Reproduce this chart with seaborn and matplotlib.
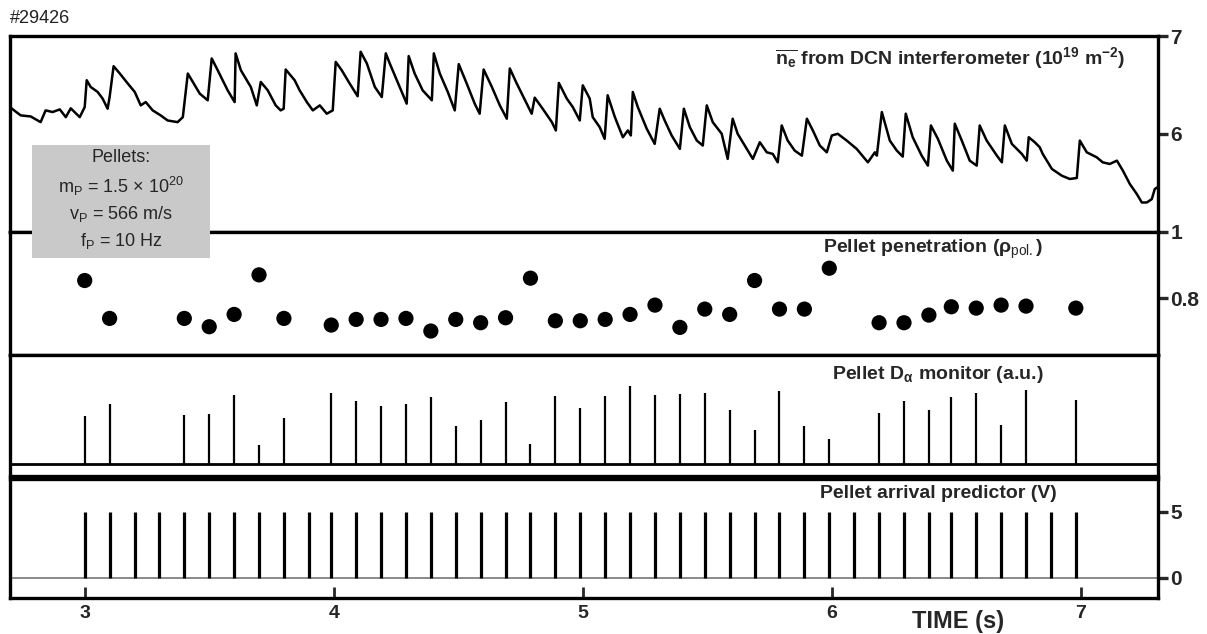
import numpy as np
import pandas as pd
import seaborn as sns
import matplotlib.pyplot as plt
from matplotlib.patches import Rectangle

# line averaged density trace (time in s, 1e19 m^-2)
ne_time = [2.70, 2.72, 2.743, 2.783, 2.823, 2.843, 2.871, 2.900, 2.924, 2.944, 2.980, 3.000,
           3.008, 3.024, 3.052, 3.072, 3.092, 3.100, 3.116, 3.141, 3.173, 3.201, 3.225, 3.245,
           3.273, 3.305, 3.333, 3.373, 3.394, 3.414, 3.434, 3.462, 3.494, 3.510, 3.534, 3.574,
           3.602, 3.606, 3.627, 3.667, 3.691, 3.707, 3.735, 3.767, 3.787, 3.799, 3.807, 3.843,
           3.863, 3.892, 3.916, 3.944, 3.972, 3.996, 4.008, 4.032, 4.064, 4.096, 4.108, 4.133,
           4.165, 4.193, 4.209, 4.225, 4.265, 4.293, 4.301, 4.325, 4.357, 4.394, 4.402, 4.426,
           4.458, 4.486, 4.502, 4.534, 4.566, 4.586, 4.602, 4.635, 4.667, 4.695, 4.707, 4.735,
           4.775, 4.795, 4.807, 4.839, 4.876, 4.892, 4.904, 4.936, 4.960, 4.988, 5.000, 5.028,
           5.040, 5.068, 5.088, 5.100, 5.129, 5.161, 5.181, 5.193, 5.201, 5.221, 5.257, 5.289,
           5.309, 5.329, 5.357, 5.390, 5.406, 5.430, 5.458, 5.482, 5.498, 5.522, 5.558, 5.582,
           5.602, 5.622, 5.659, 5.683, 5.711, 5.739, 5.763, 5.783, 5.799, 5.823, 5.851, 5.880,
           5.900, 5.924, 5.952, 5.980, 6.000, 6.024, 6.060, 6.100, 6.145, 6.173, 6.181, 6.201,
           6.233, 6.261, 6.285, 6.297, 6.325, 6.361, 6.386, 6.398, 6.426, 6.462, 6.486, 6.494,
           6.522, 6.554, 6.582, 6.594, 6.622, 6.663, 6.683, 6.695, 6.723, 6.763, 6.783, 6.791,
           6.815, 6.835, 6.847, 6.884, 6.924, 6.956, 6.984, 6.996, 7.024, 7.064, 7.088, 7.116,
           7.145, 7.169, 7.197, 7.225, 7.245, 7.265, 7.285, 7.297, 7.31]
ne_val = [6.275, 6.234, 6.190, 6.179, 6.121, 6.241, 6.224, 6.251, 6.172, 6.262, 6.172, 6.275,
          6.549, 6.480, 6.429, 6.361, 6.258, 6.377, 6.692, 6.617, 6.515, 6.429, 6.292, 6.326,
          6.241, 6.190, 6.138, 6.121, 6.172, 6.617, 6.531, 6.412, 6.344, 6.771, 6.651, 6.446,
          6.326, 6.823, 6.651, 6.480, 6.292, 6.531, 6.446, 6.292, 6.241, 6.258, 6.658, 6.549,
          6.446, 6.326, 6.241, 6.292, 6.207, 6.241, 6.736, 6.651, 6.515, 6.385, 6.839, 6.720,
          6.480, 6.377, 6.823, 6.720, 6.480, 6.310, 6.795, 6.617, 6.446, 6.344, 6.823, 6.617,
          6.429, 6.241, 6.713, 6.515, 6.310, 6.207, 6.658, 6.480, 6.292, 6.156, 6.669, 6.515,
          6.310, 6.207, 6.371, 6.258, 6.121, 6.036, 6.521, 6.361, 6.275, 6.138, 6.497, 6.361,
          6.172, 6.070, 5.951, 6.395, 6.172, 5.967, 6.036, 5.985, 6.429, 6.275, 6.053, 5.899,
          6.258, 6.138, 5.985, 5.848, 6.258, 6.070, 5.933, 5.882, 6.292, 6.121, 6.002, 5.746,
          6.156, 6.002, 5.848, 5.746, 5.916, 5.813, 5.797, 5.711, 6.087, 5.933, 5.831, 5.779,
          6.156, 6.036, 5.882, 5.813, 5.985, 6.002, 5.933, 5.848, 5.711, 5.813, 5.779, 6.224,
          5.933, 5.831, 5.769, 6.207, 5.967, 5.779, 5.677, 6.087, 5.951, 5.728, 5.626, 6.105,
          5.933, 5.728, 5.677, 6.087, 5.933, 5.779, 5.711, 6.087, 5.899, 5.797, 5.728, 5.967,
          5.916, 5.865, 5.797, 5.643, 5.574, 5.541, 5.551, 5.933, 5.813, 5.762, 5.711, 5.694,
          5.728, 5.626, 5.489, 5.387, 5.301, 5.301, 5.335, 5.438, 5.46]

# pellet arrival predictor pulses (s)
arrival_time = [3.00, 3.10, 3.20, 3.30, 3.40, 3.50, 3.60, 3.70, 3.80, 3.90, 3.99, 4.09, 4.19, 4.29,
                4.39, 4.49, 4.59, 4.69, 4.79, 4.89, 4.99, 5.09, 5.19, 5.29, 5.39, 5.49, 5.59, 5.69,
                5.79, 5.89, 5.99, 6.09, 6.19, 6.29, 6.39, 6.48, 6.58, 6.68, 6.78, 6.88, 6.98]
arrival_volt = 5.0

# pellets that actually reached the plasma
pellet_time = [3.00, 3.10, 3.40, 3.50, 3.60, 3.70, 3.80, 3.99, 4.09, 4.19, 4.29, 4.39, 4.49, 4.59,
               4.69, 4.79, 4.89, 4.99, 5.09, 5.19, 5.29, 5.39, 5.49, 5.59, 5.69, 5.79, 5.89, 5.99,
               6.19, 6.29, 6.39, 6.48, 6.58, 6.68, 6.78, 6.98]
penetration = [0.854, 0.740, 0.740, 0.715, 0.752, 0.871, 0.740, 0.720, 0.737, 0.737, 0.740, 0.702,
               0.737, 0.727, 0.742, 0.861, 0.733, 0.733, 0.737, 0.752, 0.780, 0.713, 0.768, 0.752,
               0.854, 0.768, 0.768, 0.891, 0.727, 0.727, 0.750, 0.775, 0.771, 0.780, 0.777, 0.771]
d_alpha = [1.45, 1.82, 1.47, 1.53, 2.10, 0.57, 1.40, 2.14, 1.90, 1.75, 1.83, 2.03, 1.15, 1.33,
           1.87, 0.61, 2.05, 1.70, 2.05, 2.37, 2.09, 2.11, 2.15, 1.63, 1.03, 2.22, 1.15, 0.75,
           1.54, 1.90, 1.65, 2.02, 2.14, 1.18, 2.24, 1.95]

sns.set_style("white")
narrow = ['Liberation Sans Narrow', 'Liberation Sans', 'DejaVu Sans']
plt.rcParams['font.family'] = narrow
plt.rcParams['mathtext.fontset'] = 'custom'
plt.rcParams['mathtext.rm'] = 'Liberation Sans'
plt.rcParams['mathtext.it'] = 'Liberation Sans'
plt.rcParams['mathtext.bf'] = 'Liberation Sans:bold'

fig = plt.figure(figsize=(12.07, 6.34), dpi=100)
L, W = 10 / 1207, 1148 / 1207
ax1 = fig.add_axes([L, 0.6341, W, 0.3091])
ax2 = fig.add_axes([L, 0.4401, W, 0.1940])
ax3 = fig.add_axes([L, 0.2492, W, 0.1909])
ax4 = fig.add_axes([L, 0.0568, W, 0.1877])
xlim = (2.70, 7.31)
spine_w = 2.4

# density
df_ne = pd.DataFrame({'t': ne_time, 'ne': ne_val})
sns.lineplot(data=df_ne, x='t', y='ne', ax=ax1, color='black', lw=1.8,
             sort=False, estimator=None)
ax1.set_ylim(5, 7)
ax1.set_yticks([6, 7])
ax1.set_yticklabels(['6', '7'], fontweight='bold')
ax1.text(0.971, 0.888,
         r'$\mathbf{\overline{n_e}}$ from DCN interferometer (10$^{\mathbf{19}}$ m$^{\mathbf{-2}}$)',
         transform=ax1.transAxes, ha='right', va='center', fontsize=14, fontweight='bold')

# penetration
df_pen = pd.DataFrame({'t': pellet_time, 'rho': penetration})
sns.scatterplot(data=df_pen, x='t', y='rho', ax=ax2, color='black', s=120,
                edgecolor='none')
ax2.set_ylim(0.63, 1.0)
ax2.set_yticks([0.8, 1.0])
ax2.set_yticklabels(['0.8', '1'], fontweight='bold')
ax2.text(0.900, 0.862, r'Pellet penetration (ρ$_{\mathrm{pol.}}$)',
         transform=ax2.transAxes, ha='right', va='center', fontsize=14, fontweight='bold')

# D-alpha monitor
ax3.axhline(0, color='black', lw=2.0)
ax3.vlines(pellet_time, 0, d_alpha, color='black', lw=1.6)
ax3.set_ylim(-0.36, 3.30)
ax3.set_yticks([])
ax3.text(0.900, 0.835, r'Pellet D$_{\mathbf{α}}$ monitor (a.u.)',
         transform=ax3.transAxes, ha='right', va='center', fontsize=14, fontweight='bold')

# arrival predictor
ax4.axhline(0, color='#8a8a8a', lw=1.4)
ax4.vlines(arrival_time, 0, arrival_volt, color='black', lw=2.3)
ax4.set_ylim(-1.52, 7.5)
ax4.set_yticks([0, 5])
ax4.set_yticklabels(['0', '5'], fontweight='bold')
ax4.text(0.912, 0.882, 'Pellet arrival predictor (V)',
         transform=ax4.transAxes, ha='right', va='center', fontsize=14, fontweight='bold')

for ax in (ax1, ax2, ax3, ax4):
    ax.set_xlim(*xlim)
    for s in ax.spines.values():
        s.set_linewidth(spine_w)
        s.set_color('black')
    ax.yaxis.tick_right()
    ax.tick_params(axis='y', direction='out', length=7, width=2.4, pad=2,
                   labelsize=15)
    ax.tick_params(axis='x', bottom=False, labelbottom=False)
    ax.set_xlabel('')
    ax.set_ylabel('')

ax4.set_xticks([3, 4, 5, 6, 7])
ax4.set_xticklabels(['3', '4', '5', '6', '7'], fontweight='bold')
ax4.tick_params(axis='x', bottom=True, labelbottom=True, direction='in', length=8,
                width=2, labelsize=14, pad=5)

fig.text(0.7937, 0.019, 'TIME (s)', ha='center', va='center', fontsize=17, fontweight='bold')
fig.text(0.0083, 0.9716, '#29426', ha='left', va='center', fontsize=13,
         family=['Liberation Sans', 'DejaVu Sans'], color='#222222')

# pellet parameter box
fig.add_artist(Rectangle((0.0265, 0.5931), 0.1475, 0.1782, transform=fig.transFigure,
                         facecolor='#c9c9c9', edgecolor='none', zorder=5))
box_lines = ['Pellets:', r'm$_\mathrm{P}$ = 1.5 × 10$^{20}$', r'v$_\mathrm{P}$ = 566 m/s',
             r'f$_\mathrm{P}$ = 10 Hz']
for yy, txt in zip([0.7508, 0.7066, 0.6625, 0.6199], box_lines):
    fig.text(0.1002, yy, txt, ha='center', va='center', fontsize=13, zorder=6,
             family=['Liberation Sans', 'DejaVu Sans'])

fig.savefig('out.png', dpi=100)
